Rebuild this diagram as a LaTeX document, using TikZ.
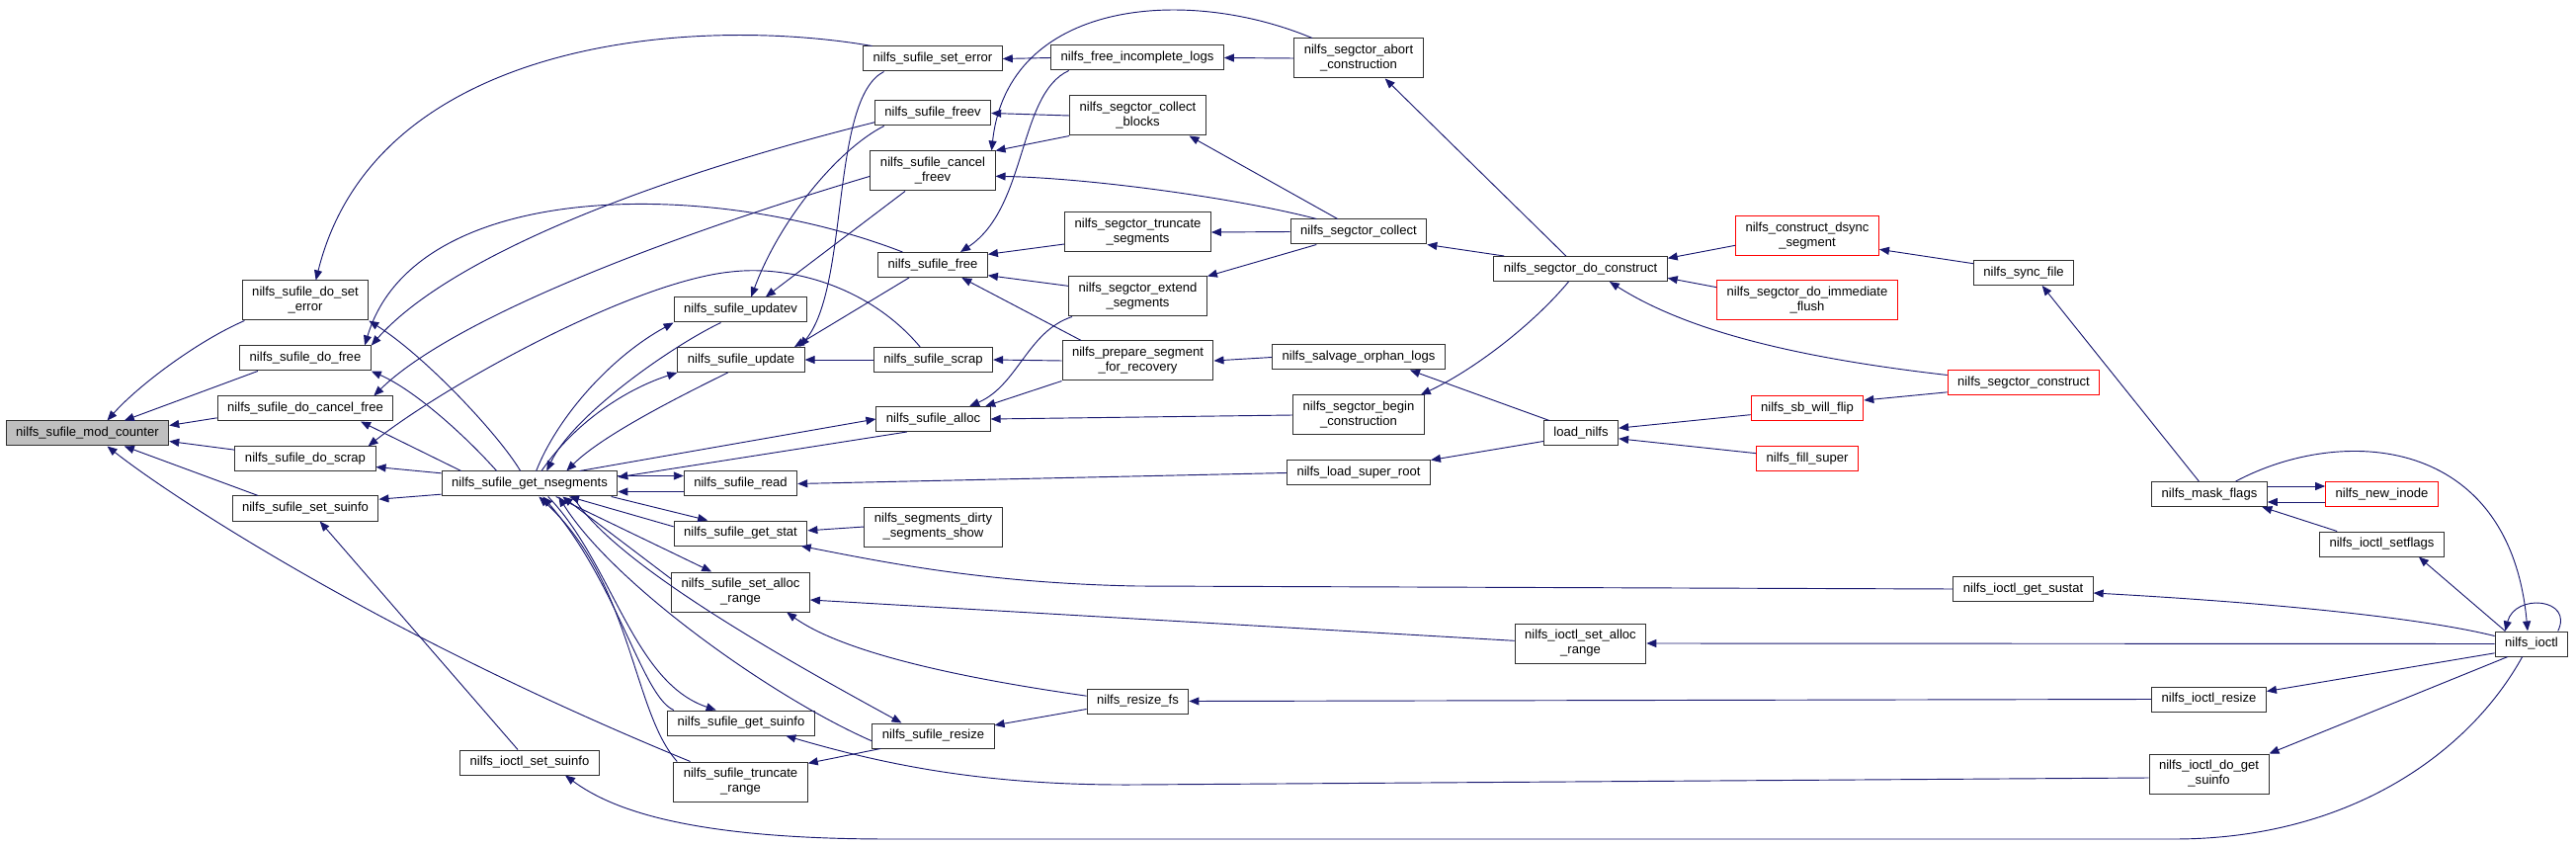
\documentclass[tikz,border=0pt]{standalone}
\usepackage{fontspec}
\setmainfont{Liberation Sans}
\usetikzlibrary{arrows.meta}
\definecolor{edgeblue}{HTML}{191970}
\definecolor{boxline}{HTML}{303030}
\definecolor{curfill}{HTML}{BFBFBF}
\definecolor{extred}{HTML}{FF0000}
\tikzset{
  fn/.style={draw=boxline, line width=0.75pt, fill=white, inner xsep=7.5pt, inner ysep=2pt,
    minimum height=18.75pt, align=center, font=\fontsize{9.8pt}{11.25pt}\selectfont},
  fntwo/.style={fn, minimum height=30pt},
  ext/.style={draw=extred},
  cur/.style={fill=curfill},
  call/.style={draw=edgeblue, line width=0.7pt, -{Triangle[length=7.5pt,width=6pt]}}
}

\begin{document}
\begin{tikzpicture}[x=0.75pt, y=-0.75pt]
        \useasboundingbox (0,0) rectangle (2607,855);

        \node[fn, cur] (mod) at (88.5,438.5) {nilfs\_sufile\_mod\_counter};
        \node[fntwo] (doseterr) at (309,304) {nilfs\_sufile\_do\_set\\\_error};
        \node[fn] (dofree) at (309,362.5) {nilfs\_sufile\_do\_free};
        \node[fn] (docancel) at (309,413.5) {nilfs\_sufile\_do\_cancel\_free};
        \node[fn] (doscrap) at (309,464.5) {nilfs\_sufile\_do\_scrap};
        \node[fn] (setsuinfo) at (309,514.5) {nilfs\_sufile\_set\_suinfo};
        \node[fn] (nseg) at (536,489.5) {nilfs\_sufile\_get\_nsegments};
        \node[fn] (ioctlsetsu) at (536,771.5) {nilfs\_ioctl\_set\_suinfo};
        \node[fn] (updatev) at (749.5,313.5) {nilfs\_sufile\_updatev};
        \node[fn] (update) at (750,364) {nilfs\_sufile\_update};
        \node[fn] (read) at (749.5,489.5) {nilfs\_sufile\_read};
        \node[fn] (getstat) at (749.5,539.5) {nilfs\_sufile\_get\_stat};
        \node[fntwo] (setalloc) at (749.5,599) {nilfs\_sufile\_set\_alloc\\\_range};
        \node[fn] (getsuinfo) at (750,731.5) {nilfs\_sufile\_get\_suinfo};
        \node[fntwo] (truncrange) at (749.5,791) {nilfs\_sufile\_truncate\\\_range};
        \node[fn] (seterror) at (944,59.5) {nilfs\_sufile\_set\_error};
        \node[fn] (freev) at (944,114.5) {nilfs\_sufile\_freev};
        \node[fntwo] (cancelfreev) at (944,173) {nilfs\_sufile\_cancel\\\_freev};
        \node[fn] (sufree) at (944,268) {nilfs\_sufile\_free};
        \node[fn] (suscrap) at (944.5,364) {nilfs\_sufile\_scrap};
        \node[fn] (alloc) at (944.5,424) {nilfs\_sufile\_alloc};
        \node[fntwo] (dirtyshow) at (944.5,533) {nilfs\_segments\_dirty\\\_segments\_show};
        \node[fn] (suresize) at (944.5,744.5) {nilfs\_sufile\_resize};
        \node[fn] (freelogs) at (1151,58.5) {nilfs\_free\_incomplete\_logs};
        \node[fntwo] (collblocks) at (1151.5,117) {nilfs\_segctor\_collect\\\_blocks};
        \node[fntwo] (truncseg) at (1151.5,235) {nilfs\_segctor\_truncate\\\_segments};
        \node[fntwo] (extseg) at (1151.5,300) {nilfs\_segctor\_extend\\\_segments};
        \node[fntwo] (prepseg) at (1151.5,365) {nilfs\_prepare\_segment\\\_for\_recovery};
        \node[fn] (resizefs) at (1151.5,709.5) {nilfs\_resize\_fs};
        \node[fntwo] (abortcons) at (1375,59) {nilfs\_segctor\_abort\\\_construction};
        \node[fn] (collect) at (1375,234.5) {nilfs\_segctor\_collect};
        \node[fn] (salvage) at (1375,361.5) {nilfs\_salvage\_orphan\_logs};
        \node[fntwo] (begincons) at (1375,420) {nilfs\_segctor\_begin\\\_construction};
        \node[fn] (superroot) at (1375,478.5) {nilfs\_load\_super\_root};
        \node[fn] (doconstruct) at (1599.5,272) {nilfs\_segctor\_do\_construct};
        \node[fn] (loadnilfs) at (1600,438.5) {load\_nilfs};
        \node[fntwo] (ioctlalloc) at (1599.5,651) {nilfs\_ioctl\_set\_alloc\\\_range};
        \node[fntwo, ext] (dsync) at (1829,239) {nilfs\_construct\_dsync\\\_segment};
        \node[fntwo, ext] (flush) at (1829,304) {nilfs\_segctor\_do\_immediate\\\_flush};
        \node[fn, ext] (willflip) at (1829,413) {nilfs\_sb\_will\_flip};
        \node[fn, ext] (fillsuper) at (1829,464) {nilfs\_fill\_super};
        \node[fn] (syncfile) at (2048,276) {nilfs\_sync\_file};
        \node[fn, ext] (construct) at (2048,387.5) {nilfs\_segctor\_construct};
        \node[fn] (getsustat) at (2047.5,596) {nilfs\_ioctl\_get\_sustat};
        \node[fn] (maskflags) at (2236,500) {nilfs\_mask\_flags};
        \node[fn] (ioctlresize) at (2235.5,707.5) {nilfs\_ioctl\_resize};
        \node[fntwo] (dogetsu) at (2235.5,783) {nilfs\_ioctl\_do\_get\\\_suinfo};
        \node[fn, ext] (newinode) at (2410.5,500) {nilfs\_new\_inode};
        \node[fn] (setflags) at (2410.5,550.5) {nilfs\_ioctl\_setflags};
        \node[fn] (ioctl) at (2562,651.5) {nilfs\_ioctl};

        \draw[call] ([xshift=2pt]doseterr.south west) .. controls (200,345) and (140,390) .. ([xshift=15pt]mod.north);
        \draw[call] ([xshift=14pt]dofree.south west) -- ([xshift=28pt]mod.north);
        \draw[call] ([yshift=-7pt]docancel.west) -- ([yshift=6pt]mod.east);
        \draw[call] ([yshift=7pt]doscrap.west) -- ([yshift=-6pt]mod.east);
        \draw[call] ([xshift=20pt]setsuinfo.north west) -- ([xshift=28pt]mod.south);
        \draw[call] ([xshift=13pt]truncrange.north west) .. controls (380,640) and (170,500) .. ([xshift=15pt]mod.south);

        \draw[call] ([xshift=-7pt]nseg.north) .. controls (505,440) and (430,360) .. (doseterr.south east);
        \draw[call] ([xshift=-25pt]nseg.north) .. controls (470,440) and (420,395) .. (dofree.south east);
        \draw[call] ([xshift=15pt]nseg.north west) -- ([xshift=-25pt]docancel.south east);
        \draw[call] ([yshift=8pt]nseg.west) -- ([yshift=-6pt]doscrap.east);
        \draw[call] ([yshift=-8pt]nseg.west) -- ([yshift=7pt]setsuinfo.east);
        \draw[call] ([xshift=-9pt]ioctlsetsu.north) -- ([xshift=11pt]setsuinfo.south);

        \draw[call] ([xshift=7pt]seterror.north west) .. controls (700,15) and (380,40) .. ([xshift=8pt]doseterr.north);
        \draw[call] ([yshift=-7pt]freev.west) .. controls (640,185) and (450,265) .. (dofree.north east);
        \draw[call] ([xshift=19pt]sufree.north west) .. controls (720,180) and (420,180) .. ([xshift=-5pt]dofree.north east);
        \draw[call] ([yshift=-4pt]cancelfreev.west) .. controls (640,250) and (450,330) .. ([xshift=-15pt]docancel.north east);
        \draw[call] ([xshift=-10pt]suscrap.north) .. controls (880,290) and (800,268) .. (740,275)
          .. controls (640,285) and (450,390) .. ([xshift=-6pt]doscrap.north east);

        \draw[call] ([xshift=5pt]nseg.north) .. controls (565,420) and (620,360) .. (updatev.south west);
        \draw[call] ([xshift=-15pt]updatev.south) .. controls (680,350) and (580,420) .. ([xshift=13pt]nseg.north);
        \draw[call] ([xshift=9pt]nseg.north) .. controls (580,430) and (630,395) .. (update.south west);
        \draw[call] ([xshift=-10pt]update.south) .. controls (690,400) and (610,440) .. ([xshift=28pt]nseg.north);
        \draw[call] ([xshift=38pt]nseg.north) -- (alloc.west);
        \draw[call] ([xshift=-20pt]alloc.south) -- ([yshift=5pt]nseg.east);
        \draw[call] ([yshift=6pt]nseg.east) -- ([yshift=6pt]read.west);
        \draw[call] ([yshift=-6pt]read.west) -- ([yshift=-6pt]nseg.east);
        \draw[call] ([xshift=-5pt]nseg.south east) -- ([xshift=-25pt]getstat.north);
        \draw[call] ([yshift=5pt]getstat.west) -- ([xshift=30pt]nseg.south);
        \draw[call] ([xshift=20pt]nseg.south) -- ([xshift=-22pt]setalloc.north);
        \draw[call] ([yshift=10pt]setalloc.west) -- ([xshift=25pt]nseg.south);
        \draw[call] ([xshift=14pt]nseg.south) .. controls (620,570) and (640,690) .. ([xshift=-19pt]getsuinfo.north);
        \draw[call] ([xshift=5pt]getsuinfo.north west) .. controls (650,705) and (625,590) .. ([xshift=10pt]nseg.south);
        \draw[call] ([xshift=33pt]nseg.south) .. controls (620,570) and (800,670) .. ([xshift=-24pt]suresize.north);
        \draw[call] ([yshift=-4pt]suresize.west) .. controls (780,705) and (620,590) .. ([xshift=22pt]nseg.south);
        \draw[call] ([xshift=3pt]truncrange.north west) .. controls (640,720) and (640,590) .. ([xshift=7pt]nseg.south);

        \draw[call] ([xshift=-18pt]sufree.south) -- ([xshift=-8pt]update.north east);
        \draw[call] ([xshift=16pt]seterror.south west) .. controls (840,100) and (860,290) .. ([xshift=-4pt]update.north east);
        \draw[call] (suscrap.west) -- (update.east);
        \draw[call] ([xshift=-37pt]freev.south) .. controls (850,150) and (790,220) .. ([xshift=8pt]updatev.north);
        \draw[call] ([xshift=-21pt]cancelfreev.south) -- ([xshift=19pt]updatev.north);
        \draw[call] (superroot.west) -- (read.east);
        \draw[call] (dirtyshow.west) -- ([yshift=2pt]getstat.east);
        \draw[call] (getsustat.west) -- (1150,593) .. controls (1000,590) and (900,570) .. ([xshift=-5pt]getstat.south east);
        \draw[call] ([yshift=2pt]ioctlalloc.west) -- ([yshift=-6pt]setalloc.east);
        \draw[call] ([yshift=4pt]resizefs.west) .. controls (1000,690) and (860,665) .. ([xshift=35pt]setalloc.south);
        \draw[call] ([yshift=-3pt]dogetsu.west) -- (1150,794) .. controls (1000,795) and (900,775) .. ([xshift=34pt]getsuinfo.south);
        \draw[call] ([xshift=-40pt]suresize.south) -- ([yshift=14pt]truncrange.east);
        \draw[call] ([yshift=-6pt]resizefs.west) -- ([yshift=8pt]suresize.east);

        \draw[call] (freelogs.west) -- (seterror.east);
        \draw[call] (collblocks.west) -- (freev.east);
        \draw[call] (collblocks.south west) -- (cancelfreev.north east);
        \draw[call] ([xshift=14pt]abortcons.north west) .. controls (1200,-15) and (1020,0) .. ([xshift=-3pt]cancelfreev.north east);
        \draw[call] ([xshift=20pt]collect.north west) .. controls (1250,200) and (1100,180) .. ([yshift=-4pt]cancelfreev.east);
        \draw[call] ([xshift=-52pt]freelogs.south) .. controls (1030,95) and (1040,210) .. ([xshift=21pt]sufree.north);
        \draw[call] ([yshift=-9pt]truncseg.west) -- ([yshift=8pt]sufree.east);
        \draw[call] ([yshift=8pt]extseg.west) -- ([yshift=-8pt]sufree.east);
        \draw[call] ([xshift=-43pt]prepseg.north) -- ([xshift=22pt]sufree.south);
        \draw[call] (prepseg.west) -- (suscrap.east);
        \draw[call] (prepseg.south west) -- ([xshift=-4pt]alloc.north east);
        \draw[call] ([xshift=3pt]extseg.south west) .. controls (1040,335) and (1030,390) .. ([xshift=-16pt]alloc.north east);
        \draw[call] (begincons.west) -- (alloc.east);

        \draw[call] (abortcons.west) -- (freelogs.east);
        \draw[call] ([xshift=-16pt]collect.north) -- ([xshift=39pt]collblocks.south);
        \draw[call] (collect.west) -- (truncseg.east);
        \draw[call] ([xshift=20pt]collect.south west) -- (extseg.north east);
        \draw[call] (salvage.west) -- (prepseg.east);
        \draw[call] (ioctlresize.west) -- (resizefs.east);

        \draw[call] ([xshift=-11pt]doconstruct.north) -- ([xshift=20pt]abortcons.south);
        \draw[call] ([xshift=-58pt]doconstruct.north) -- (collect.south east);
        \draw[call] ([xshift=-9pt]doconstruct.south) .. controls (1550,330) and (1490,375) .. ([xshift=-3pt]begincons.north east);
        \draw[call] ([xshift=-24pt]loadnilfs.north) -- ([xshift=39pt]salvage.south);
        \draw[call] ([yshift=-6pt]loadnilfs.west) -- (superroot.north east);
        \draw[call] (ioctl.west) -- (ioctlalloc.east);

        \draw[call] ([yshift=-7pt]dsync.west) -- ([yshift=8pt]doconstruct.east);
        \draw[call] ([yshift=10pt]flush.west) -- ([yshift=-7pt]doconstruct.east);
        \draw[call] ([yshift=-5pt]willflip.west) -- ([yshift=4pt]loadnilfs.east);
        \draw[call] ([yshift=4pt]fillsuper.west) -- ([yshift=-4pt]loadnilfs.east);

        \draw[call] ([yshift=7pt]syncfile.west) -- ([yshift=-10pt]dsync.east);
        \draw[call] ([yshift=6pt]construct.west) .. controls (1800,360) and (1700,330) .. ([xshift=22pt]doconstruct.south);
        \draw[call] ([yshift=-7pt]construct.west) -- ([yshift=6pt]willflip.east);
        \draw[call] ([yshift=6pt]ioctl.west) .. controls (2450,625) and (2300,610) .. ([yshift=-3pt]getsustat.east);

        \draw[call] ([xshift=-8pt]maskflags.north) -- ([xshift=14pt]syncfile.south);
        \draw[call] ([yshift=-7pt]ioctl.west) -- ([yshift=6pt]ioctlresize.east);
        \draw[call] ([xshift=-18pt]ioctl.south) -- (dogetsu.north east);
        \draw[call] ([xshift=-7pt]ioctl.south) .. controls (2500,760) and (2380,849) .. (2200,849) -- (900,849)
          .. controls (700,849) and (620,820) .. ([xshift=27pt]ioctlsetsu.south);

        \draw[call] ([yshift=6pt]maskflags.east) -- ([yshift=6pt]newinode.west);
        \draw[call] ([yshift=-6pt]newinode.west) -- ([yshift=-6pt]maskflags.east);
        \draw[call] ([xshift=-34pt]setflags.north) -- ([xshift=40pt]maskflags.south);
        \draw[call] ([xshift=20pt]maskflags.north) .. controls (2370,430) and (2540,440) .. ([xshift=-3pt]ioctl.north);
        \draw[call] ([xshift=-20pt]ioctl.north) -- ([xshift=28pt]setflags.south);
        \draw[call] ([xshift=-8pt]ioctl.north east) .. controls (2605,605) and (2545,600) .. ([xshift=-20pt]ioctl.north);
      \end{tikzpicture}
\end{document}
